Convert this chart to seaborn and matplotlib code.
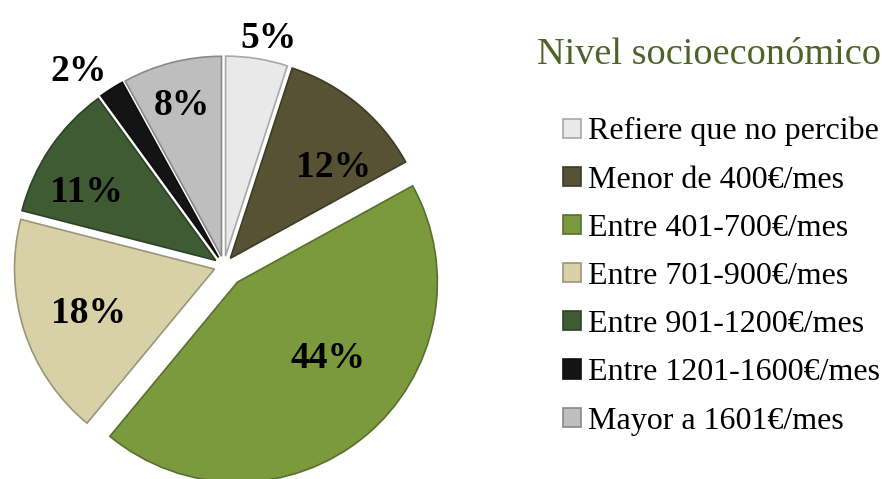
import numpy as np
import matplotlib
matplotlib.use("Agg")
import matplotlib.pyplot as plt
import matplotlib.colors as mcolors
import seaborn as sns

# Data
categories = [
    "Refiere que no percibe",
    "Menor de 400€/mes",
    "Entre 401-700€/mes",
    "Entre 701-900€/mes",
    "Entre 901-1200€/mes",
    "Entre 1201-1600€/mes",
    "Mayor a 1601€/mes",
]
values = [5, 12, 44, 18, 11, 2, 8]
pct_labels = ["5%", "12%", "44%", "18%", "11%", "2%", "8%"]

# Style
colors = ["#E9E9E9", "#575233", "#7B9A3E", "#D8D0A6", "#3E5B34", "#141414", "#BEBEBE"]
explode = [0.05, 0.05, 0.105, 0.05, 0.05, 0.05, 0.05]
label_r = [1.13, 0.70, 0.58, 0.66, 0.74, 1.18, 0.80]
label_dtheta = [-2, -8, 12, 0, 5, 4, 0]

sns.set_theme(style="white")
plt.rcParams["font.family"] = ["Liberation Serif", "DejaVu Serif"]
plt.rcParams["text.color"] = "black"

fig = plt.figure(figsize=(8.85, 4.79), dpi=100)
ax = fig.add_axes([0, 0, 448 / 885, 1])

edge_cols = [tuple(c * 0.72 for c in mcolors.to_rgb(col)) for col in colors]
wedges, _ = ax.pie(
    values,
    colors=colors,
    explode=explode,
    startangle=90,
    counterclock=False,
    radius=1,
    wedgeprops=dict(linewidth=1.2),
)
for w, ec in zip(wedges, edge_cols):
    w.set_edgecolor(ec)

ax.set_xlim(-1.12, 1.12)
ax.set_ylim(-1.065, 1.33)
ax.set_aspect("equal")
ax.axis("off")

# percentage labels
for i, w in enumerate(wedges):
    th = np.deg2rad((w.theta1 + w.theta2) / 2 + label_dtheta[i])
    cx, cy = w.center
    ax.text(cx + label_r[i] * np.cos(th), cy + label_r[i] * np.sin(th) - 0.02,
            pct_labels[i], ha="center", va="center",
            fontsize=27, fontweight="bold", color="black")

# title and legend
fig.text(537 / 885, 1 - 55 / 479, "Nivel socioeconómico", fontsize=27.5,
         color="#4F6228", ha="left", va="center")

leg = fig.legend(
    wedges, categories,
    loc="upper left", bbox_to_anchor=(563 / 885, 1 - 117 / 479),
    frameon=False, fontsize=23, borderpad=0, borderaxespad=0,
    handlelength=0.55, handleheight=0.55, handletextpad=0.22,
    labelspacing=0.6,
)
for t in leg.get_texts():
    t.set_color("black")

fig.savefig("out.png", dpi=100)
